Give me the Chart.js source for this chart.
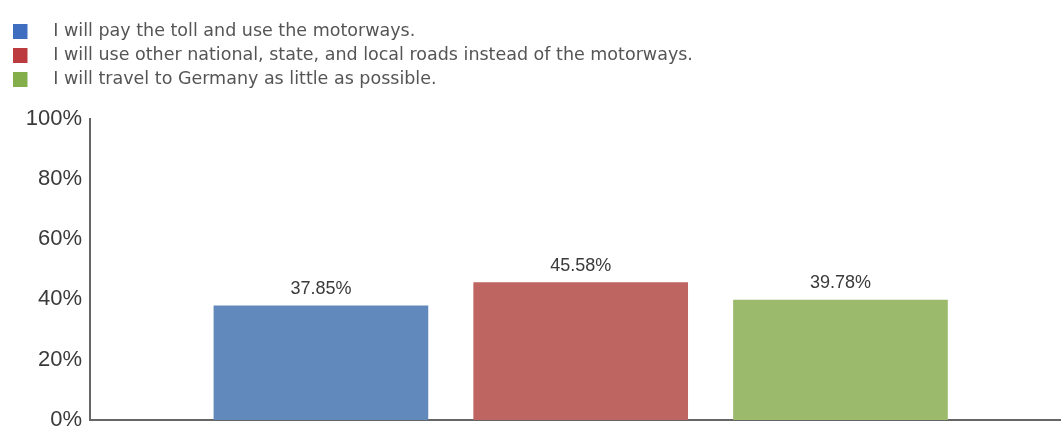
<!DOCTYPE html>
<html>
<head>
<meta charset="utf-8">
<script src="https://cdn.jsdelivr.net/npm/chart.js@4/dist/chart.umd.min.js"></script>
<style>
html,body{margin:0;padding:0;background:#fff;}
#wrap{width:1061px;height:432px;position:relative;}
</style>
</head>
<body>
<div id="wrap"><canvas id="c" width="1061" height="432"></canvas></div>
<script>
const categories = [
  "I will pay the toll and use the motorways.",
  "I will use other national, state, and local roads instead of the motorways.",
  "I will travel to Germany as little as possible."
];
const values = [37.85, 45.58, 39.78];
const yTicks = [0, 20, 40, 60, 80, 100];

const barColors = ["#6289BC", "#BE6461", "#9CBA6B"];
const legendColors = ["#3F6DC0", "#BC3B3E", "#84AE4A"];

function makeSwatch(color) {
  const cv = document.createElement('canvas');
  cv.width = 32; cv.height = 15;
  const g = cv.getContext('2d');
  g.fillStyle = color;
  g.fillRect(0, 0, 15, 15);
  return cv;
}
const swatches = legendColors.map(makeSwatch);

const datasets = categories.map((c, i) => ({
  label: c,
  data: [{x: i, y: values[i]}],
  backgroundColor: barColors[i],
  borderWidth: 0,
  grouped: false,
  barThickness: 214
}));

const valueLabels = {
  id: 'valueLabels',
  afterDatasetsDraw(chart) {
    const ctx = chart.ctx;
    ctx.save();
    ctx.font = '18px "Liberation Sans", Arial, sans-serif';
    ctx.fillStyle = '#3a3a3a';
    ctx.textAlign = 'center';
    ctx.textBaseline = 'middle';
    chart.data.datasets.forEach((ds, i) => {
      const meta = chart.getDatasetMeta(i);
      meta.data.forEach((el, j) => {
        ctx.fillText(ds.data[j].y.toFixed(2) + '%', el.x, el.y - 17);
      });
    });
    ctx.restore();
  }
};

const legendExtra = {
  id: 'legendExtra',
  beforeInit(chart) {
    const lg = chart.legend;
    if (!lg) return;
    const origFit = lg.fit;
    lg.fit = function () { origFit.call(this); this.height += 20.5; };
  }
};

new Chart(document.getElementById('c'), {
  type: 'bar',
  data: { datasets },
  options: {
    responsive: false,
    animation: false,
    layout: { padding: { top: 16, left: 6, right: 0, bottom: 12 } },
    plugins: {
      tooltip: { enabled: false },
      legend: {
        position: 'top',
        align: 'start',
        labels: {
          usePointStyle: true,
          pointStyleWidth: 32,
          boxHeight: 15,
          padding: 6.5,
          color: '#555',
          font: { family: '"DejaVu Sans", sans-serif', size: 17.5 },
          generateLabels(chart) {
            const items = Chart.defaults.plugins.legend.labels.generateLabels(chart);
            items.forEach((it, i) => { it.pointStyle = swatches[i]; });
            return items;
          }
        }
      }
    },
    scales: {
      x: {
        type: 'linear',
        offset: false,
        min: -0.889,
        max: 2.849,
        grid: { display: false, drawTicks: false, offset: false },
        ticks: { display: false },
        border: { display: true, color: '#666', width: 2 }
      },
      y: {
        min: 0,
        max: 100,
        afterFit(s) { s.width = 84; s.paddingTop = 0; s.paddingBottom = 0; },
        afterBuildTicks(s) { s.ticks = yTicks.map(v => ({ value: v })); },
        grid: { display: false, drawTicks: false },
        border: { display: true, color: '#666', width: 2 },
        ticks: {
          padding: 8,
          color: '#3a3a3a',
          font: { family: '"Liberation Sans", Arial, sans-serif', size: 22 },
          callback: v => v + '%'
        }
      }
    }
  },
  plugins: [valueLabels, legendExtra]
});
</script>
</body>
</html>
